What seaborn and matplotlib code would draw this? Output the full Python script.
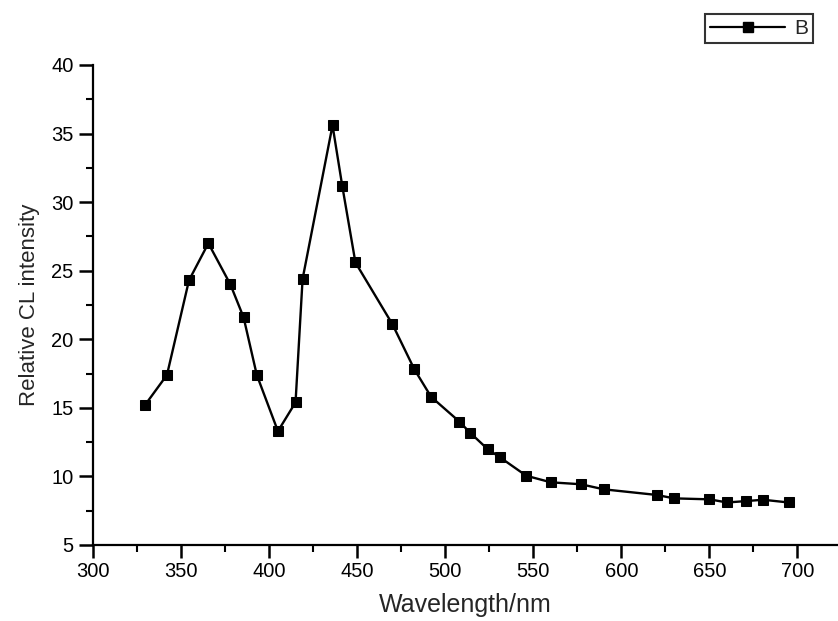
import matplotlib
matplotlib.use("Agg")
import matplotlib.pyplot as plt
from matplotlib.ticker import MultipleLocator
from matplotlib.lines import Line2D
import seaborn as sns
import pandas as pd

wavelength = [329.5, 342, 354.5, 365.5, 378, 385.5, 393, 405, 415, 419, 436, 441.5,
              449, 470, 482.5, 492, 508, 514, 524, 531, 546, 560, 577, 590, 620,
              630, 650, 660, 670.5, 680.5, 695]
intensity = [15.2, 17.4, 24.3, 27.0, 24.0, 21.6, 17.4, 13.3, 15.4, 24.4, 35.6, 31.2,
             25.6, 21.1, 17.8, 15.8, 14.0, 13.2, 12.0, 11.4, 10.05, 9.57, 9.43, 9.06, 8.65,
             8.4, 8.33, 8.1, 8.2, 8.3, 8.1]
series_name = "B"

df = pd.DataFrame({"Wavelength": wavelength, "Intensity": intensity, "Series": series_name})

sns.set_style("ticks")
plt.rcParams['font.family'] = ['Liberation Sans', 'DejaVu Sans']

fig = plt.figure(figsize=(8.38, 6.21), dpi=100)
ax = fig.add_axes([93/838, 76/621, 1 - 93/838, 480/621])

sns.lineplot(data=df, x="Wavelength", y="Intensity", hue="Series", palette=["black"],
             marker="s", markersize=7.5, markeredgecolor="black", linewidth=1.7,
             ax=ax, legend=False)

ax.set_xlim(300, 723)
ax.set_ylim(5, 40)
ax.xaxis.set_major_locator(MultipleLocator(50))
ax.xaxis.set_minor_locator(MultipleLocator(25))
ax.yaxis.set_major_locator(MultipleLocator(5))
ax.yaxis.set_minor_locator(MultipleLocator(2.5))

for s in ["top", "right"]:
    ax.spines[s].set_visible(False)
for s in ["left", "bottom"]:
    ax.spines[s].set_linewidth(1.6)
    ax.spines[s].set_color("black")

ax.tick_params(which="major", direction="out", length=9, width=1.8, labelsize=14.5,
               colors="black", pad=3)
ax.tick_params(which="minor", direction="out", length=5, width=1.5, colors="black")
ax.tick_params(axis="y", which="major", length=10, pad=4)

ax.set_xlabel("Wavelength/nm", fontsize=18, labelpad=9)
ax.set_ylabel("Relative CL intensity", fontsize=16, labelpad=8)

handle = Line2D([], [], color="black", marker="s", markersize=7.5, linewidth=1.6)
leg = fig.legend([handle], [series_name], loc="upper right",
                 bbox_to_anchor=(813/838, 1 - 14/621), frameon=True, fancybox=False,
                 fontsize=15, handlelength=3.6, borderpad=0.25, handletextpad=0.4,
                 borderaxespad=0)
leg.get_frame().set_edgecolor("black")
leg.get_frame().set_linewidth(1.5)

fig.savefig("out.png", dpi=100)
